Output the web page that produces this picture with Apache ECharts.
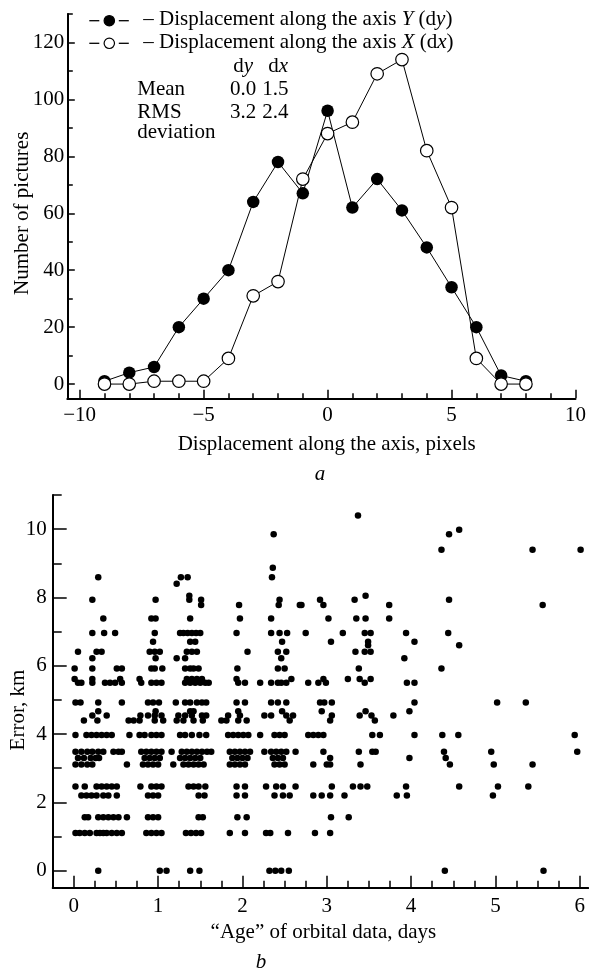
<!DOCTYPE html>
<html>
<head>
<meta charset="utf-8">
<script src="https://cdn.jsdelivr.net/npm/echarts@6/dist/echarts.min.js"></script>
<style>
html,body{margin:0;padding:0;background:#fff;}
#chart{width:589px;height:971px;}
</style>
</head>
<body>
<div id="chart"></div>
<script>
// ---------- Panel a: displacement histogram ----------
const dispX   = [-9, -8, -7, -6, -5, -4, -3, -2, -1, 0, 1, 2, 3, 4, 5, 6, 7, 8];
const dyCount = [1, 4, 6, 20, 30, 40, 64, 78, 67, 96, 62, 72, 61, 48, 34, 20, 3, 1];
const dxCount = [0, 0, 1, 1, 1, 9, 31, 36, 72, 88, 92, 109, 114, 82, 62, 9, 0, 0];

const topXTicks      = [-10, -5, 0, 5, 10];
const topXMinorTicks = [-9, -8, -7, -6, -4, -3, -2, -1, 1, 2, 3, 4, 6, 7, 8, 9];
const topYTicks      = [0, 20, 40, 60, 80, 100, 120];
const topYMinorTicks = [10, 30, 50, 70, 90, 110, 130];

// ---------- Panel b: error vs age of orbital data (ages listed per error level, km) ----------
const err0_00 = [0.29, 1.02, 1.10, 1.38, 1.49, 2.32, 2.39, 2.46, 2.55, 4.40, 5.57];
const err1_10 = [0.02, 0.07, 0.13, 0.19, 0.27, 0.31, 0.35, 0.39, 0.45, 0.51, 0.57, 0.86, 0.92, 0.98, 1.04, 1.33, 1.39, 1.45, 1.51, 1.85, 2.03, 2.28, 2.33, 2.54, 2.86, 3.04];
const err1_56 = [0.13, 0.17, 0.29, 0.35, 0.41, 0.47, 0.53, 0.63, 0.88, 0.94, 1.00, 1.48, 1.53, 1.94, 2.05, 3.05, 3.26];
const err2_20 = [0.09, 0.15, 0.21, 0.27, 0.35, 0.41, 0.51, 0.88, 0.94, 1.00, 1.48, 1.55, 1.93, 2.03, 2.38, 2.48, 2.56, 2.84, 2.94, 3.04, 3.21, 3.83, 3.95, 4.97];
const err2_46 = [0.02, 0.13, 0.27, 0.33, 0.39, 0.45, 0.51, 0.79, 0.92, 0.98, 1.04, 1.36, 1.42, 1.48, 1.56, 1.93, 2.03, 2.28, 2.40, 2.48, 2.63, 3.06, 3.31, 3.40, 3.48, 3.94, 4.57, 5.03, 5.39];
const err3_11 = [0.02, 0.09, 0.16, 0.22, 0.63, 0.82, 0.88, 0.94, 1.00, 1.18, 1.30, 1.36, 1.42, 1.48, 1.54, 1.85, 1.91, 1.97, 2.03, 2.38, 2.44, 2.50, 2.84, 3.00, 3.04, 3.40, 4.46, 4.98, 5.44];
const err3_30 = [0.05, 0.12, 0.20, 0.26, 0.30, 0.84, 0.90, 0.96, 1.02, 1.26, 1.32, 1.38, 1.44, 1.50, 1.88, 1.94, 2.00, 2.06, 2.36, 2.42, 2.48, 3.04, 3.98, 4.41];
const err3_48 = [0.02, 0.09, 0.16, 0.22, 0.29, 0.35, 0.47, 0.53, 0.57, 0.80, 0.86, 0.92, 0.98, 1.04, 1.16, 1.28, 1.34, 1.40, 1.46, 1.52, 1.58, 1.63, 1.85, 1.91, 1.97, 2.03, 2.09, 2.26, 2.34, 2.40, 2.46, 2.52, 2.63, 2.96, 3.38, 3.54, 3.58, 4.39, 4.95, 5.97];
const err3_97 = [0.02, 0.15, 0.21, 0.27, 0.33, 0.39, 0.45, 0.66, 0.78, 0.84, 0.92, 0.98, 1.04, 1.26, 1.32, 1.40, 1.49, 1.57, 1.83, 1.89, 1.95, 2.01, 2.07, 2.21, 2.38, 2.44, 2.50, 2.78, 2.84, 2.90, 2.96, 3.54, 3.63, 4.04, 4.37, 4.56, 5.94];
const err4_40 = [0.12, 0.28, 0.65, 0.71, 0.78, 0.96, 1.06, 1.22, 1.30, 1.42, 1.53, 1.75, 1.81, 1.95, 2.05, 2.56, 3.04, 3.57];
const err4_54 = [0.22, 0.39, 0.79, 0.88, 0.96, 1.04, 1.24, 1.32, 1.40, 1.52, 1.57, 1.83, 1.97, 2.26, 2.34, 2.52, 2.60, 3.06, 3.39, 3.53, 3.79];
const err4_67 = [0.29, 0.97, 1.38, 1.42, 1.95, 2.47, 2.94, 3.46, 3.98];
const err4_92 = [0.02, 0.08, 0.29, 0.57, 0.88, 0.94, 1.01, 1.21, 1.32, 1.38, 1.46, 1.52, 1.57, 1.93, 2.03, 2.34, 2.42, 2.52, 2.92, 2.97, 3.06, 4.04, 5.02, 5.36];
const err5_50 = [0.05, 0.09, 0.22, 0.37, 0.43, 0.49, 0.57, 0.80, 0.92, 0.98, 1.04, 1.32, 1.38, 1.44, 1.50, 1.56, 1.60, 1.95, 2.03, 2.21, 2.34, 2.42, 2.46, 2.52, 2.78, 2.90, 2.99, 3.45, 3.95, 4.04];
const err5_61 = [0.01, 0.22, 0.55, 0.78, 1.34, 1.40, 1.46, 1.52, 1.93, 2.58, 2.96, 3.25, 3.39, 3.52];
const err5_92 = [0.01, 0.22, 0.51, 0.57, 0.92, 0.96, 1.05, 1.32, 1.38, 1.42, 1.48, 1.94, 2.42, 2.50, 3.38, 4.36];
const err6_22 = [0.22, 0.97, 1.22, 1.32, 2.46, 3.92];
const err6_41 = [0.05, 0.27, 0.33, 0.90, 0.96, 1.02, 1.34, 1.40, 1.46, 2.06, 2.42, 2.52, 3.34, 3.45, 3.52];
const err6_60 = [3.49, 4.57];
const err6_70 = [0.94, 1.38, 1.44, 2.47, 3.05, 3.49, 4.04];
const err6_96 = [0.22, 0.36, 0.49, 0.96, 1.26, 1.30, 1.35, 1.40, 1.45, 1.50, 1.93, 2.34, 2.44, 2.53, 2.75, 3.19, 3.45, 3.52, 3.94, 4.44];
const err7_38 = [0.35, 0.92, 0.97, 1.38, 1.97, 2.34, 3.02, 3.35, 3.46, 3.74];
const err7_78 = [1.51, 1.96, 2.43, 2.68, 2.70, 2.96, 3.74, 5.56];
const err7_93 = [0.22, 0.97, 1.37, 1.51, 2.44, 2.92, 3.33, 4.45];
const err8_05 = [1.37, 3.46];
const err8_40 = [1.22];
const err8_59 = [0.29, 1.27, 1.35, 2.35];
const err8_87 = [2.36];
const err9_40 = [4.36, 5.44, 6.01];
const err9_85 = [2.37, 4.45];
const err9_98 = [4.57];
const err10_4 = [3.37];

const errorLevels = [0, 1.1, 1.56, 2.2, 2.46, 3.11, 3.3, 3.48, 3.97, 4.4, 4.54, 4.67, 4.92, 5.5, 5.61, 5.92, 6.22, 6.41, 6.6, 6.7, 6.96, 7.38, 7.78, 7.93, 8.05, 8.4, 8.59, 8.87, 9.4, 9.85, 9.98, 10.4];
const agesPerLevel = [err0_00, err1_10, err1_56, err2_20, err2_46, err3_11, err3_30, err3_48, err3_97, err4_40, err4_54, err4_67, err4_92, err5_50, err5_61, err5_92, err6_22, err6_41, err6_60, err6_70, err6_96, err7_38, err7_78, err7_93, err8_05, err8_40, err8_59, err8_87, err9_40, err9_85, err9_98, err10_4];

const botXTicks      = [0, 1, 2, 3, 4, 5, 6];
const botXMinorTicks = [0.25, 0.5, 0.75, 1.25, 1.5, 1.75, 2.25, 2.5, 2.75, 3.25, 3.5, 3.75, 4.25, 4.5, 4.75, 5.25, 5.5, 5.75];
const botYTicks      = [0, 2, 4, 6, 8, 10];
const botYMinorTicks = [1, 3, 5, 7, 9, 11];

// ---------- build ----------
const FONT = 'Liberation Serif';
const dyData = dispX.map((x, i) => [x, dyCount[i]]);
const dxData = dispX.map((x, i) => [x, dxCount[i]]);
const scatterData = [];
errorLevels.forEach((e, i) => agesPerLevel[i].forEach(a => scatterData.push([a, e])));

const minusFmt = v => (v < 0 ? '\u2212' + Math.abs(v) : String(v));
const lblStyle = {color: '#000', fontFamily: FONT, fontSize: 21};

function majorAxis(extra) {
  return Object.assign({
    type: 'value',
    axisLine: {show: true, onZero: false, lineStyle: {color: '#000', width: 2}},
    splitLine: {show: false},
    minorTick: {show: false}
  }, extra);
}
function minorAxis(extra, ticks, len) {
  return Object.assign({
    type: 'value',
    axisLine: {show: false, onZero: false},
    axisLabel: {show: false},
    splitLine: {show: false},
    axisTick: {show: true, inside: true, length: len, customValues: ticks, lineStyle: {color: '#000', width: 1.5}}
  }, extra);
}

const option = {
  animation: false,
  backgroundColor: '#fff',
  grid: [
    {left: 67.3, top: 14, width: 517.7, height: 384.3},
    {left: 52.7, top: 495, width: 535.5, height: 392.7}
  ],
  xAxis: [
    majorAxis({gridIndex: 0, min: -10.5, max: 10, position: 'bottom',
      axisTick: {show: true, inside: true, length: 8.5, customValues: topXTicks, lineStyle: {color: '#000', width: 1.5}},
      axisLabel: Object.assign({margin: 7, customValues: topXTicks, formatter: minusFmt}, lblStyle)}),
    minorAxis({gridIndex: 0, min: -10.5, max: 10, position: 'bottom'}, topXMinorTicks, 5),
    majorAxis({gridIndex: 1, min: -0.25, max: 6.1, position: 'bottom',
      axisTick: {show: true, inside: true, length: 12, customValues: botXTicks, lineStyle: {color: '#000', width: 1.5}},
      axisLabel: Object.assign({margin: 8, customValues: botXTicks}, lblStyle)}),
    minorAxis({gridIndex: 1, min: -0.25, max: 6.1, position: 'bottom'}, botXMinorTicks, 7)
  ],
  yAxis: [
    majorAxis({gridIndex: 0, min: -5, max: 130, position: 'left',
      axisTick: {show: true, inside: true, length: 7.5, customValues: topYTicks, lineStyle: {color: '#000', width: 1.5}},
      axisLabel: Object.assign({margin: 3, customValues: topYTicks}, lblStyle)}),
    minorAxis({gridIndex: 0, min: -5, max: 130, position: 'left'}, topYMinorTicks, 5.5),
    majorAxis({gridIndex: 1, min: -0.5, max: 11, position: 'left',
      axisTick: {show: true, inside: true, length: 14, customValues: botYTicks, lineStyle: {color: '#000', width: 1.5}},
      axisLabel: Object.assign({margin: 6, customValues: botYTicks}, lblStyle)}),
    minorAxis({gridIndex: 1, min: -0.5, max: 11, position: 'left'}, botYMinorTicks, 9)
  ],
  series: [
    {
      name: 'dy', type: 'line', xAxisIndex: 0, yAxisIndex: 0, data: dyData,
      symbol: 'circle', symbolSize: 12.5,
      lineStyle: {color: '#000', width: 1},
      itemStyle: {color: '#000', opacity: 1}, z: 3
    },
    {
      name: 'dx', type: 'line', xAxisIndex: 0, yAxisIndex: 0, data: dxData,
      symbol: 'circle', symbolSize: 12.5,
      lineStyle: {color: '#000', width: 1},
      itemStyle: {color: '#fff', borderColor: '#000', borderWidth: 1.2, opacity: 1}, z: 4
    },
    {
      name: 'error', type: 'scatter', xAxisIndex: 2, yAxisIndex: 2, data: scatterData,
      symbol: 'circle', symbolSize: 6.5,
      itemStyle: {color: '#000', opacity: 1}
    }
  ],
  graphic: []
};

// text helpers (labels, legend, annotations)
function txt(x, y, text, extra) {
  return Object.assign({
    type: 'text', x: x, y: y, silent: true,
    style: Object.assign({
      text: text, fill: '#000', fontFamily: FONT, fontSize: 21,
      align: 'left', verticalAlign: 'middle',
      rich: {i: {fontStyle: 'italic', fontFamily: FONT, fontSize: 21, fill: '#000'}}
    }, extra || {})
  });
}
const g = option.graphic;
// legend symbols
[[20.7, '#000'], [43.3, '#fff']].forEach(([yy, fill]) => {
  g.push({type: 'line', silent: true, shape: {x1: 89.3, y1: yy, x2: 99.3, y2: yy}, style: {stroke: '#000', lineWidth: 1.3}});
  g.push({type: 'line', silent: true, shape: {x1: 118.8, y1: yy, x2: 128.8, y2: yy}, style: {stroke: '#000', lineWidth: 1.3}});
  g.push({type: 'circle', silent: true, shape: {cx: 109.3, cy: yy, r: 5.2}, style: {fill: fill, stroke: '#000', lineWidth: 1.2}});
});
g.push(txt(143.3, 19.6, '\u2013 Displacement along the axis {i|Y} (d{i|y})'));
g.push(txt(143.3, 42.9, '\u2013 Displacement along the axis {i|X} (d{i|x})'));
// statistics table
g.push(txt(233.3, 66.2, 'd{i|y}'));
g.push(txt(268.3, 66.2, 'd{i|x}'));
g.push(txt(137.3, 89.6, 'Mean'));
g.push(txt(230, 89.6, '0.0'));
g.push(txt(262.3, 89.6, '1.5'));
g.push(txt(137.3, 112.2, 'RMS'));
g.push(txt(230, 112.2, '3.2'));
g.push(txt(262.3, 112.2, '2.4'));
g.push(txt(137.3, 132.9, 'deviation'));
// axis titles and panel letters
g.push(Object.assign(txt(22, 213.3, 'Number of pictures', {align: 'center'}), {rotation: Math.PI / 2}));
g.push(txt(326.7, 444.6, 'Displacement along the axis, pixels', {align: 'center'}));
g.push(txt(320, 474.6, 'a', {align: 'center', fontStyle: 'italic'}));
g.push(Object.assign(txt(18.6, 710, 'Error, km', {align: 'center'}), {rotation: Math.PI / 2}));
g.push(txt(323.4, 932.9, '\u201CAge\u201D of orbital data, days', {align: 'center'}));
g.push(txt(261, 962, 'b', {align: 'center', fontStyle: 'italic'}));

const chart = echarts.init(document.getElementById('chart'), null, {renderer: 'canvas'});
chart.setOption(option);
</script>
</body>
</html>
